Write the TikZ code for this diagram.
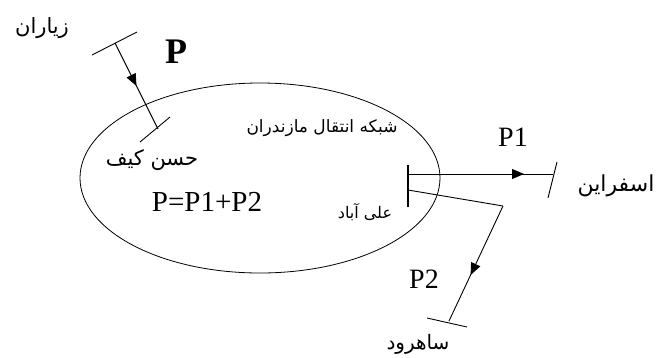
\documentclass[tikz,border=0pt]{standalone}
\usepackage{fontspec}
\setmainfont{Liberation Serif}
\newfontfamily\latinserif{Liberation Serif}
\newfontfamily\arabicfont[Script=Arabic]{DejaVu Sans}
\TeXXeTstate=1
\usetikzlibrary{arrows.meta,decorations.markings}
\tikzset{
  wire/.style={line width=0.9pt},
  tick/.style={line width=0.9pt},
  busbar/.style={line width=2pt},
  midarrow/.style={postaction={decorate},decoration={markings,
      mark=at position #1 with {\arrow{Triangle[length=12pt,width=10pt]}}}},
  fa/.style={inner sep=0pt},
  lbl/.style={inner sep=0pt},
}
\newcommand{\rtl}[1]{\beginR #1\endR}
\newcommand{\fasize}[1]{\arabicfont\fontsize{#1}{#1}\selectfont}
\newcommand{\lasize}[1]{\latinserif\fontsize{#1}{#1}\selectfont}
\begin{document}
\begin{tikzpicture}[x=1pt,y=-1pt]
\useasboundingbox (0,0) rectangle (661,357);

% regional network boundary
\draw[line width=0.8pt] (260,178) ellipse [x radius=180, y radius=95];

% incoming line from Ziaran
\coordinate (ta) at (92,55);
\coordinate (tb) at (137,32);
\coordinate (pin) at (115,43);
\coordinate (pend) at (158,129);
\coordinate (ua) at (140,142);
\coordinate (ub) at (170,117);
\draw[tick] (ta) -- (tb);
\draw[tick] (ua) -- (ub);
\draw[wire,midarrow=0.5] (pin) -- (pend);

% Ali Abad bus bar
\coordinate (bustop) at (408,165);
\coordinate (busbot) at (408,207);
\draw[busbar] (bustop) -- (busbot);

% outgoing line to Esfarayen
\coordinate (b1) at (408,174);
\coordinate (e1) at (553,174);
\coordinate (va) at (548,198);
\coordinate (vb) at (557,162);
\draw[wire,midarrow=0.8] (b1) -- (e1);
\draw[tick] (va) -- (vb);

% outgoing line to Shahroud
\coordinate (b2) at (408,190);
\coordinate (bend) at (503,206);
\coordinate (e2) at (449,321);
\coordinate (wa) at (427,318);
\coordinate (wb) at (467,327);
\draw[wire] (b2) -- (bend);
\draw[wire,midarrow=0.6] (bend) -- (e2);
\draw[tick] (wa) -- (wb);

% labels
\node[lbl,font=\lasize{36}\bfseries] (lp) at (176,52) {P};
\node[lbl,font=\lasize{28}] (lp1) at (513,137) {P1};
\node[lbl,font=\lasize{28}] (lp2) at (424,279) {P2};
\node[lbl,font=\lasize{29}] (sum) at (207,202) {P=P1+P2};

\node[fa,font=\fasize{21}] (ziaran) at (42,28) {\rtl{زیاران}};
\node[fa,font=\fasize{21}] (hasan) at (152,160) {\rtl{حسن کیف}};
\node[fa,font=\fasize{17}] (net) at (322,128) {\rtl{شبکه انتقال مازندران}};
\node[fa,font=\fasize{16}] (ali) at (365,212) {\rtl{علی آباد}};
\node[fa,font=\fasize{22}] (esf) at (616,186) {\rtl{اسفراین}};
\node[fa,font=\fasize{20}] (shah) at (418,344) {\rtl{ساهرود}};
\end{tikzpicture}
\end{document}
